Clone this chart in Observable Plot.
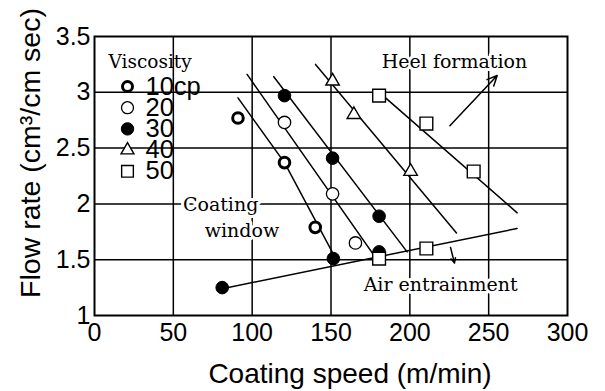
<!DOCTYPE html>
<html><head><meta charset="utf-8">
<script src="https://cdn.jsdelivr.net/npm/d3@7"></script>
<script src="https://cdn.jsdelivr.net/npm/@observablehq/plot@0.6"></script>
<style>body{margin:0;background:#fff}</style>
</head><body><div id="chart"></div>
<script>
// ---- data ----
const xTicks = [0, 50, 100, 150, 200, 250, 300];
const yTicks = [1, 1.5, 2, 2.5, 3, 3.5];
const yTickLabels = ["1", "1.5", "2", "2.5", "3", "3.5"];
const xGrid = [50, 100, 150, 200, 250];
const yGrid = [1.5, 2, 2.5, 3];
const viscosityLabels = ["10cp", "20", "30", "40", "50"];

const speed10 = [91, 120.5, 140];
const flow10  = [2.77, 2.37, 1.79];
const speed20 = [120.5, 151, 165.5];
const flow20  = [2.73, 2.09, 1.65];
const speed30 = [81, 120.5, 151, 151.5, 180.5, 180.5];
const flow30  = [1.25, 2.97, 2.41, 1.51, 1.89, 1.57];
const speed40 = [151, 164.5, 200.5];
const flow40  = [3.1, 2.8, 2.29];
const speed50 = [180.5, 210.5, 240.5, 180.5, 210.5];
const flow50  = [2.97, 2.72, 2.29, 1.51, 1.6];

// window boundary lines (one per viscosity) and air entrainment line
const boundarySpeed = [[91, 120.5, 153], [96.8, 178.2], [113.7, 198.3], [140.2, 229.6], [184.6, 268.1]];
const boundaryFlow  = [[2.95, 2.37, 1.51], [3.16, 1.52], [3.14, 1.57], [3.25, 1.74], [2.95, 1.92]];
const airSpeed = [81, 268];
const airFlow  = [1.24, 1.78];

// arrows: heel formation, air entrainment
const arrowSpeed1 = [225.4, 225.8];
const arrowFlow1  = [2.70, 1.61];
const arrowSpeed2 = [255.4, 228.3];
const arrowFlow2  = [3.15, 1.47];

// annotations
const noteText  = ["Heel formation", "Coating", "window", "Air entrainment"];
const noteSpeed = [228.3, 80, 93.5, 219.5];
const noteFlow  = [3.27, 1.99, 1.76, 1.27];

// ---- build tables ----
const seriesSpeed = [speed10, speed20, speed30, speed40, speed50];
const seriesFlow  = [flow10, flow20, flow30, flow40, flow50];
const points = viscosityLabels.flatMap((v, i) =>
  seriesSpeed[i].map((s, j) => ({visc: v, speed: s, flow: seriesFlow[i][j]})));
const boundaryRows = boundarySpeed.flatMap((xs, i) =>
  xs.map((s, j) => ({id: i, speed: s, flow: boundaryFlow[i][j]})));
const airRows = airSpeed.map((s, j) => ({speed: s, flow: airFlow[j]}));
const arrows = arrowSpeed1.map((s, i) => ({x1: s, y1: arrowFlow1[i], x2: arrowSpeed2[i], y2: arrowFlow2[i]}));
const notes = noteText.map((t, i) => ({text: t, speed: noteSpeed[i], flow: noteFlow[i]}));

const markStyle = {
  "10cp": {symbol: "circle", r: 5.3, fill: "white", stroke: "black", strokeWidth: 3},
  "20":   {symbol: "circle", r: 6.2, fill: "white", stroke: "black", strokeWidth: 1.3},
  "30":   {symbol: "circle", r: 6.3, fill: "black", stroke: "black", strokeWidth: 1},
  "40":   {symbol: "triangle", r: 5.0, fill: "white", stroke: "black", strokeWidth: 1.4},
  "50":   {symbol: "square", r: 7.2, fill: "white", stroke: "black", strokeWidth: 1.4}
};
const legendStyle = {
  "10cp": {symbol: "circle", r: 5.0, fill: "white", stroke: "black", strokeWidth: 3},
  "20":   {symbol: "circle", r: 6.0, fill: "white", stroke: "black", strokeWidth: 1.3},
  "30":   {symbol: "circle", r: 6.2, fill: "black", stroke: "black", strokeWidth: 1},
  "40":   {symbol: "triangle", r: 4.8, fill: "white", stroke: "black", strokeWidth: 1.4},
  "50":   {symbol: "square", r: 6.6, fill: "white", stroke: "black", strokeWidth: 1.4}
};

const serif = "DejaVu Serif, serif";

const marks = [
  Plot.gridX(xGrid, {stroke: "black", strokeOpacity: 1, strokeWidth: 1.5}),
  Plot.gridY(yGrid, {stroke: "black", strokeOpacity: 1, strokeWidth: 1.5}),
  Plot.frame({stroke: "black", strokeWidth: 2}),
  Plot.axisX({ticks: xTicks, tickSize: 0, tickPadding: 8, fontSize: 25, label: null}),
  Plot.axisY({ticks: yTicks, tickFormat: (d) => yTickLabels[yTicks.indexOf(d)], tickSize: 0, tickPadding: 4, fontSize: 25, label: null}),
  Plot.line(boundaryRows, {x: "speed", y: "flow", z: "id", stroke: "black", strokeWidth: 1.5}),
  Plot.line(airRows, {x: "speed", y: "flow", stroke: "black", strokeWidth: 1.5}),
  Plot.arrow(arrows, {x1: "x1", y1: "y1", x2: "x2", y2: "y2", stroke: "black", strokeWidth: 1.5, headLength: 11, headAngle: 50}),
  ...viscosityLabels.map(v => Plot.dot(points.filter(d => d.visc === v), {x: "speed", y: "flow", ...markStyle[v]})),
  Plot.text(notes, {x: "speed", y: "flow", text: "text", fontFamily: serif, fontSize: 19,
    fill: "black", stroke: "white", strokeWidth: 6, paintOrder: "stroke", style: "word-spacing:4px"}),
  // legend
  Plot.text(["Viscosity"], {frameAnchor: "top-left", dx: 14, dy: 26, text: d => d, textAnchor: "start",
    lineAnchor: "middle", fontFamily: serif, fontSize: 18.5}),
  ...viscosityLabels.map((v, i) => Plot.dot([v], {frameAnchor: "top-left", dx: 33, dy: 50 + i * 21.2, ...legendStyle[v]})),
  ...viscosityLabels.map((v, i) => Plot.text([v], {frameAnchor: "top-left", dx: 51, dy: 50 + i * 21.2,
    text: d => d, textAnchor: "start", lineAnchor: "middle", fontSize: 25.5})),
  // axis titles
  Plot.text(["Coating speed (m/min)"], {frameAnchor: "bottom", dx: 19, dy: 59, text: d => d,
    textAnchor: "middle", lineAnchor: "middle", fontSize: 28}),
  Plot.text(["Flow rate (cm³/cm sec)"], {frameAnchor: "left", dx: -64, dy: -23, rotate: -90, text: d => d,
    textAnchor: "middle", lineAnchor: "middle", fontSize: 28.5})
];

const chart = Plot.plot({
  width: 605,
  height: 391,
  marginLeft: 94,
  marginRight: 38,
  marginTop: 36,
  marginBottom: 76,
  x: {domain: [0, 300]},
  y: {domain: [1, 3.5]},
  style: {fontFamily: "Liberation Sans, Arial, sans-serif", background: "white", color: "black", overflow: "visible"},
  marks
});
document.getElementById("chart").appendChild(chart);
</script>
</body></html>
